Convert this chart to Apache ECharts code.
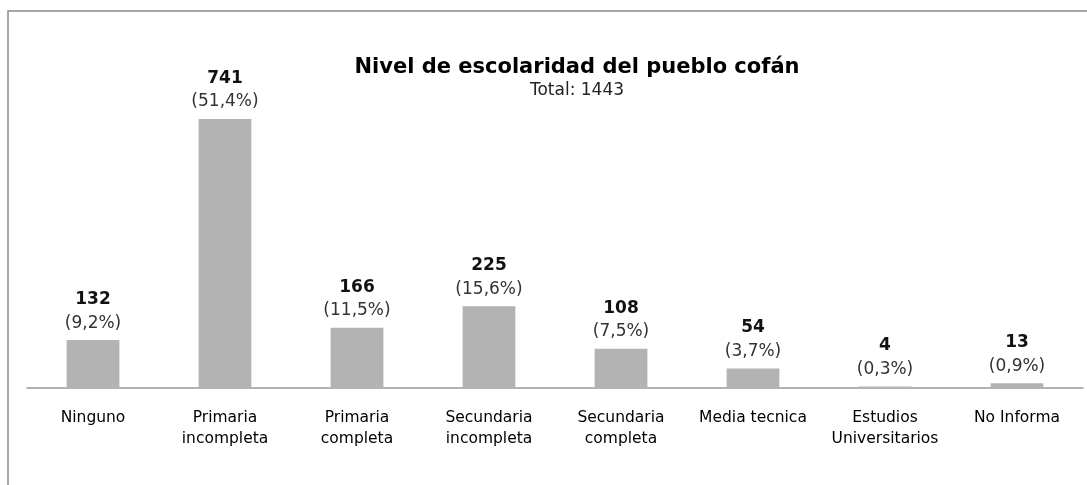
<!DOCTYPE html>
<html>
<head>
<meta charset="utf-8">
<script src="https://cdn.jsdelivr.net/npm/echarts@6/dist/echarts.min.js"></script>
<style>
  html, body { margin: 0; padding: 0; background: #fff; }
  #chart { width: 1087px; height: 485px; }
</style>
</head>
<body>
<div id="chart"></div>
<script>
// datos del gráfico
const categories = [
  "Ninguno",
  "Primaria\nincompleta",
  "Primaria\ncompleta",
  "Secundaria\nincompleta",
  "Secundaria\ncompleta",
  "Media tecnica",
  "Estudios\nUniversitarios",
  "No Informa",
];
const values = [132, 741, 166, 225, 108, 54, 4, 13];
const percents = ["9,2%", "51,4%", "11,5%", "15,6%", "7,5%", "3,7%", "0,3%", "0,9%"];
const total = 1443;

const font = "DejaVu Sans";

const chart = echarts.init(document.getElementById("chart"));

chart.setOption({
  animation: false,
  title: {
    text: "Nivel de escolaridad del pueblo cofán",
    subtext: "Total: " + total,
    left: 572,
    textAlign: "center",
    top: 52,
    itemGap: 4,
    textStyle: { fontFamily: font, fontSize: 21, fontWeight: "bold", color: "#000" },
    subtextStyle: { fontFamily: font, fontSize: 17, color: "#222" },
  },
  // marco del gráfico (solo arriba e izquierda)
  graphic: [
    {
      type: "polyline",
      shape: { points: [[8, 485], [8, 11], [1087, 11]] },
      style: { stroke: "#8a8a8a", lineWidth: 1.5, fill: null },
      silent: true,
    },
  ],
  grid: {
    left: 27,
    right: 4,
    top: 119,
    bottom: 97,
  },
  xAxis: {
    type: "category",
    data: categories,
    axisLine: { show: true, lineStyle: { color: "#999", width: 1.5 } },
    axisTick: { show: false },
    axisLabel: {
      interval: 0,
      margin: 19,
      fontFamily: font,
      fontSize: 15.5,
      lineHeight: 21,
      color: "#000",
    },
  },
  yAxis: {
    type: "value",
    min: 0,
    max: 741,
    show: false,
    splitLine: { show: false },
  },
  series: [
    {
      type: "bar",
      data: values,
      barWidth: "40%",
      itemStyle: { color: "#b3b3b3" },
      label: {
        show: true,
        position: "top",
        distance: 6,
        formatter: function (p) {
          return "{v|" + p.value + "}\n{p|(" + percents[p.dataIndex] + ")}";
        },
        rich: {
          v: { fontFamily: font, fontSize: 17, fontWeight: "bold", color: "#111", lineHeight: 25 },
          p: { fontFamily: font, fontSize: 17, color: "#333", lineHeight: 22 },
        },
      },
    },
  ],
});
</script>
</body>
</html>
